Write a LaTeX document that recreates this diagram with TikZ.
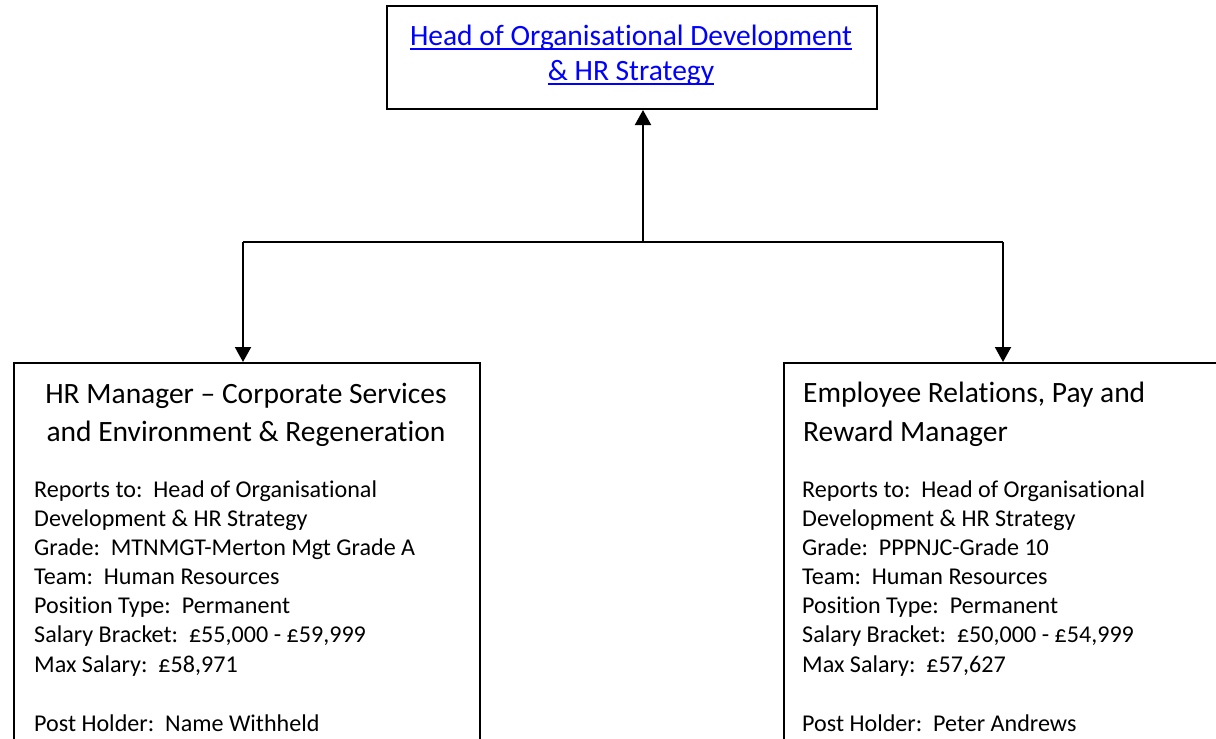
\documentclass[tikz,border=0pt]{standalone}
\usepackage{fontspec}
\setmainfont{Carlito}[Ligatures=NoCommon]
\usetikzlibrary{arrows.meta}
\newcommand\myul[1]{\setbox0\hbox{#1}\rlap{\rule[-4.5pt]{\wd0}{1.6pt}}\box0}
\definecolor{linkblue}{RGB}{0,0,255}
\tikzset{
  box/.style={draw, line width=2pt, rectangle, inner sep=0pt, anchor=north west},
  arr/.style={line width=2pt, -{Triangle[width=16pt,length=15pt]}},
  conn/.style={line width=2pt},
  headtxt/.style={inner sep=0pt, anchor=base, font=\fontsize{29.5}{35}\selectfont, text=linkblue},
  titletxt/.style={inner sep=0pt, font=\fontsize{29.5}{38}\selectfont},
  bodytxt/.style={inner sep=0pt, anchor=base west, font=\fontsize{24.1}{29}\selectfont},
}
\begin{document}
\begin{tikzpicture}[x=1pt,y=-1pt]
\useasboundingbox (0,0) rectangle (1216,739);
\clip (0,0) rectangle (1216,739);
% boxes
\node[box, minimum width=490pt, minimum height=103pt] (top) at (386,5) {};
\node[box, minimum width=466pt, minimum height=420pt] (left) at (13,362) {};
\node[box, minimum width=460pt, minimum height=420pt] (right) at (783,362) {};
% top text
\node[headtxt] (h1) at (631,45) {\myul{Head of Organisational Development}};
\node[headtxt] (h2) at (631,80) {\myul{\& HR Strategy}};
% left title
\node[titletxt, anchor=base] (lt1) at (246,403) {HR Manager – Corporate Services};
\node[titletxt, anchor=base] (lt2) at (246,441) {and Environment \& Regeneration};
% right title
\node[titletxt, anchor=base west] (rt1) at (803,402) {Employee Relations, Pay and};
\node[titletxt, anchor=base west] (rt2) at (803,441) {Reward Manager};
% left body
\node[bodytxt] (lb1) at (34,497) {Reports to:\ \ Head of Organisational};
\node[bodytxt] (lb2) at (34,526) {Development \& HR Strategy};
\node[bodytxt] (lb3) at (34,555) {Grade:\ \ MTNMGT-Merton Mgt Grade A};
\node[bodytxt] (lb4) at (34,584) {Team:\ \ Human Resources};
\node[bodytxt] (lb5) at (34,613) {Position Type:\ \ Permanent};
\node[bodytxt] (lb6) at (34,642) {Salary Bracket:\ \ £55,000 - £59,999};
\node[bodytxt] (lb7) at (34,672) {Max Salary:\ \ £58,971};
\node[bodytxt] (lb8) at (34,731) {Post Holder:\ \ Name Withheld};
% right body
\node[bodytxt] (rb1) at (802,497) {Reports to:\ \ Head of Organisational};
\node[bodytxt] (rb2) at (802,526) {Development \& HR Strategy};
\node[bodytxt] (rb3) at (802,555) {Grade:\ \ PPPNJC-Grade 10};
\node[bodytxt] (rb4) at (802,584) {Team:\ \ Human Resources};
\node[bodytxt] (rb5) at (802,613) {Position Type:\ \ Permanent};
\node[bodytxt] (rb6) at (802,642) {Salary Bracket:\ \ £50,000 - £54,999};
\node[bodytxt] (rb7) at (802,672) {Max Salary:\ \ £57,627};
\node[bodytxt] (rb8) at (802,731) {Post Holder:\ \ Peter Andrews};
% connectors
\coordinate (j) at (643,242);
\coordinate (jl) at (243,242);
\coordinate (jr) at (1003,242);
\draw[arr] (j) -- (j |- top.south);
\draw[conn] (jl) -- (jr);
\draw[arr] (jl) -- (jl |- left.north);
\draw[arr] (jr) -- (jr |- right.north);
\end{tikzpicture}
\end{document}
